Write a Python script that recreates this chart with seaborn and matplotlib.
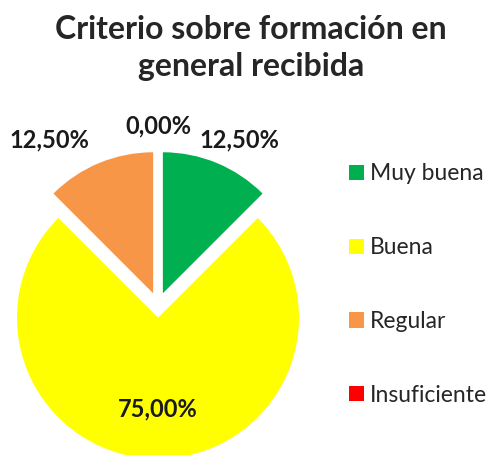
import numpy as np
import matplotlib
matplotlib.use('Agg')
import matplotlib.pyplot as plt
import seaborn as sns

## data
categories = ['Muy buena', 'Buena', 'Regular', 'Insuficiente']
percentages = [12.5, 75.0, 12.5, 0.0]
colors_hex = ['#00B050', '#FFFF00', '#F79646', '#FF0000']
title = 'Criterio sobre formación en\ngeneral recibida'

sns.set_theme(style='white')
plt.rcParams['font.family'] = ['Lato', 'DejaVu Sans']

colors = sns.color_palette(colors_hex)

fig = plt.figure(figsize=(4.97, 4.55), dpi=100)
ax = fig.add_axes([0, 0, 1, 1])

wedges, texts, autotexts = ax.pie(
    percentages, colors=colors, startangle=90, counterclock=False,
    explode=[0.09] * len(percentages), radius=1.0,
    autopct=lambda p: f'{p:.2f}%'.replace('.', ','), pctdistance=1.18,
    wedgeprops=dict(linewidth=0), textprops=dict(fontsize=17, fontweight='bold', color='#1a1a1a'))

# label placement: big slice inside, small ones outside, spread sideways
big = int(np.argmax(percentages))
for i, (w, t) in enumerate(zip(wedges, autotexts)):
    mid = np.deg2rad((w.theta1 + w.theta2) / 2.)
    cx, cy = w.center
    if i == big:
        t.set_position((cx + 0.65 * np.cos(mid), cy + 0.65 * np.sin(mid)))
    elif np.cos(mid) < -0.1:
        t.set_ha('right')
    elif np.cos(mid) > 0.1:
        x, y = t.get_position()
        t.set_position((x + 0.09, y))

# one data unit = 141 px, pie centre at (158, 305) px from top-left
ax.set_xlim(-158 / 141., (497 - 158) / 141.)
ax.set_ylim(-150 / 141., 305 / 141.)
ax.axis('off')

fig.text(0.505, 0.967, title, ha='center', va='top', fontsize=23, fontweight='bold',
         linespacing=1.35)

fig.legend(wedges, categories, loc='upper left', bbox_to_anchor=(0.661, 0.686),
           frameon=False, fontsize=16.5, labelspacing=2.3, handlelength=0.65,
           handleheight=0.65, handletextpad=0.25)

fig.savefig('out.png', dpi=100, facecolor='white')
